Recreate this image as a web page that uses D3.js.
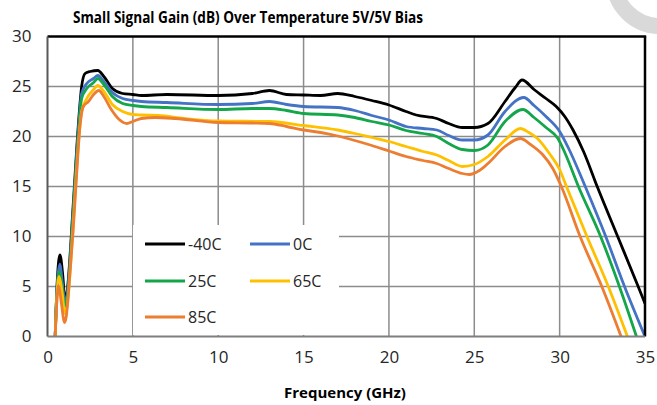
<!DOCTYPE html>
<html>
<head>
<meta charset="utf-8">
<script src="https://cdn.jsdelivr.net/npm/d3@7"></script>
<style>
  html, body { margin: 0; padding: 0; background: #fff; }
  svg { display: block; }
</style>
</head>
<body>
<svg id="chart" width="657" height="405"></svg>
<script>
// Small-signal gain (dB) versus frequency (GHz) at five temperatures
const seriesNames = ["-40C", "0C", "25C", "65C", "85C"];
const seriesColors = ["#000000", "#4472C4", "#13A64A", "#FFC000", "#ED7D31"];

const gainM40 = [
  [0.45,0],[0.57,5.5],[0.73,8.15],[0.9,6],[1.02,3.6],[1.15,4.5],[1.5,13],[1.8,21],[2.0,25],[2.2,26.3],
  [2.5,26.5],[2.95,26.6],[3.3,26],[3.8,24.8],[4.4,24.3],[5.0,24.2],[5.5,24.1],[7,24.2],[10,24.1],[12,24.3],
  [13,24.6],[14,24.2],[15,24.15],[16,24.1],[17,24.3],[18,24.0],[19,23.6],[20,23.15],[21,22.5],[21.6,22.15],
  [22.8,21.8],[23.5,21.3],[24.3,20.9],[25,20.9],[25.8,21.3],[26.8,23.5],[27.4,24.9],[27.8,25.65],[28.5,24.7],
  [29.2,23.8],[29.8,23.0],[30.3,22.0],[30.8,20.6],[31.4,18.5],[32.2,15.0],[33.4,10],[34.6,5],[35,3.3]
];
const gain0 = [
  [0.45,0],[0.56,5],[0.72,7.2],[0.88,5.2],[1.02,3.3],[1.15,4.2],[1.5,12.5],[1.8,20.5],[2.0,24.3],[2.3,25.3],
  [2.7,25.8],[2.95,26.1],[3.3,25.5],[3.8,24.4],[4.4,23.8],[5.0,23.6],[5.5,23.5],[7,23.4],[10,23.2],[12,23.3],
  [13,23.5],[14,23.2],[15,23.0],[17,22.9],[18,22.6],[19,22.1],[20,21.65],[21,21.0],[22,20.8],[22.8,20.65],
  [23.5,20.1],[24.3,19.65],[25,19.65],[25.8,20.15],[26.8,22.5],[27.9,23.9],[28.5,23.1],[29.2,22.0],[30.0,20.5],
  [30.5,18.9],[31.5,15],[32.7,10],[33.8,5],[35,0]
];
const gain25 = [
  [0.45,0],[0.55,4.5],[0.7,6.5],[0.85,5],[1.02,3.0],[1.15,3.8],[1.5,12],[1.8,20],[2.0,23.8],[2.3,24.8],
  [2.7,25.4],[2.95,25.8],[3.3,25.2],[3.8,24.0],[4.4,23.3],[5.0,23.1],[5.5,23.0],[7,22.9],[10,22.7],[12,22.8],
  [13,22.8],[14,22.6],[15,22.3],[17,22.15],[18,21.9],[19,21.5],[20,21.15],[21,20.6],[22,20.3],[22.8,20.0],
  [23.5,19.3],[24.3,18.7],[25,18.6],[25.8,19.15],[26.8,21.5],[27.85,22.7],[28.5,21.9],[29.2,20.9],[29.9,19.8],
  [30.3,18.4],[31.1,15],[32.4,10],[33.5,5],[34.5,0]
];
const gain65 = [
  [0.45,0],[0.55,4],[0.68,6.0],[0.85,4.5],[1.02,2.3],[1.15,3],[1.5,11],[1.8,19],[2.0,22.5],[2.3,23.8],
  [2.7,24.7],[2.95,25.1],[3.3,24.5],[3.8,23.2],[4.4,22.5],[5.0,22.2],[5.5,22.15],[6.5,22.1],[8,21.8],[10,21.55],
  [13,21.5],[15,21.1],[17,20.65],[18,20.3],[19,19.9],[20,19.5],[21,19.0],[22,18.5],[22.8,18.15],[23.5,17.6],
  [24.3,17.0],[25,17.2],[25.8,18.0],[26.8,19.65],[27.7,20.8],[28.2,20.4],[28.7,19.8],[29.4,18.3],[30.0,16.7],
  [30.4,15],[31.6,10],[32.85,5],[33.97,0]
];
const gain85 = [
  [0.45,0],[0.55,3.5],[0.65,5.1],[0.8,3.5],[1.0,1.4],[1.1,2],[1.3,6],[1.5,10.5],[1.7,16],[1.9,21],
  [2.1,23],[2.4,23.5],[2.7,24.2],[3.0,24.6],[3.3,24],[3.7,22.8],[4.2,21.7],[4.65,21.3],[5.0,21.5],[5.5,21.8],
  [6.3,21.9],[7.5,21.8],[10,21.4],[12,21.35],[13,21.3],[14,21.0],[15,20.65],[16,20.4],[17,20.05],[18,19.6],
  [19,19.1],[20,18.55],[21,18.0],[22,17.6],[22.8,17.3],[23.5,16.8],[24.3,16.3],[24.7,16.2],[25.3,16.6],[25.8,17.3],
  [26.8,19.0],[27.7,19.8],[28.3,19.2],[29.0,18.2],[29.6,16.8],[30.1,15],[31.2,10],[32.47,5],[33.6,0]
];
const seriesData = [gainM40, gain0, gain25, gain65, gain85];

const xTicks = [0, 5, 10, 15, 20, 25, 30, 35];
const yTicks = [0, 5, 10, 15, 20, 25, 30];

const titleText = "Small Signal Gain (dB) Over Temperature 5V/5V Bias";
const xTitle = "Frequency (GHz)";

const svg = d3.select("#chart");
const plotLeft = 47.5, plotRight = 645, plotTop = 36.5, plotBottom = 336.5;

const x = d3.scaleLinear().domain([0, 35]).range([plotLeft, plotRight]);
const y = d3.scaleLinear().domain([0, 30]).range([plotBottom, plotTop]);

// light ring in the top-right corner
svg.append("circle")
  .attr("cx", 660).attr("cy", -20).attr("r", 46)
  .attr("fill", "none").attr("stroke", "#d9d9d9").attr("stroke-width", 16);

// title
svg.append("text")
  .attr("x", 248).attr("y", 23)
  .attr("text-anchor", "middle")
  .attr("font-family", "'Open Sans', sans-serif")
  .attr("font-weight", "bold").attr("font-size", 15.5)
  .attr("textLength", 350).attr("lengthAdjust", "spacingAndGlyphs")
  .attr("fill", "#000")
  .text(titleText);

// grid
const grid = svg.append("g").attr("stroke", "#8c8c8c").attr("stroke-width", 1.5);
grid.selectAll("line.v").data(xTicks.filter(d => d > 0 && d < 35)).join("line")
  .attr("class", "v")
  .attr("x1", d => x(d)).attr("x2", d => x(d))
  .attr("y1", plotTop).attr("y2", plotBottom);
grid.selectAll("line.h").data(yTicks.filter(d => d > 0 && d < 30)).join("line")
  .attr("class", "h")
  .attr("x1", plotLeft).attr("x2", plotRight)
  .attr("y1", d => y(d)).attr("y2", d => y(d));

// curves
svg.append("defs").append("clipPath").attr("id", "plotClip")
  .append("rect").attr("x", plotLeft).attr("y", plotTop - 2)
  .attr("width", plotRight - plotLeft).attr("height", plotBottom - plotTop + 2);

const line = d3.line()
  .x(d => x(d[0]))
  .y(d => y(d[1]))
  .curve(d3.curveMonotoneX);

svg.append("g").attr("clip-path", "url(#plotClip)")
  .selectAll("path").data(seriesData).join("path")
  .attr("d", line)
  .attr("fill", "none")
  .attr("stroke", (d, i) => seriesColors[i])
  .attr("stroke-width", 2.8)
  .attr("stroke-linejoin", "round");

// legend
const legend = svg.append("g");
legend.append("rect")
  .attr("x", 133).attr("y", 225).attr("width", 206).attr("height", 110)
  .attr("fill", "#fff");
const legendPos = [[145, 244], [250, 244], [145, 281], [250, 281], [145, 317]];
seriesNames.forEach((name, i) => {
  const [lx, ly] = legendPos[i];
  legend.append("line")
    .attr("x1", lx).attr("x2", lx + 40).attr("y1", ly).attr("y2", ly)
    .attr("stroke", seriesColors[i]).attr("stroke-width", 3);
  legend.append("text")
    .attr("x", lx + 43).attr("y", ly + 6)
    .attr("font-family", "'Open Sans', sans-serif").attr("font-size", 16)
    .attr("fill", "#262626")
    .text(name);
});

// frame: grey left/bottom axes, black top/right border
svg.append("line").attr("x1", plotLeft).attr("x2", plotRight + 1.2).attr("y1", plotTop).attr("y2", plotTop)
  .attr("stroke", "#000").attr("stroke-width", 2.5);
svg.append("line").attr("x1", plotRight).attr("x2", plotRight).attr("y1", plotTop).attr("y2", plotBottom)
  .attr("stroke", "#000").attr("stroke-width", 2.5);
svg.append("line").attr("x1", plotLeft).attr("x2", plotLeft).attr("y1", plotTop).attr("y2", plotBottom)
  .attr("stroke", "#595959").attr("stroke-width", 2);
svg.append("line").attr("x1", plotLeft).attr("x2", plotRight).attr("y1", plotBottom).attr("y2", plotBottom)
  .attr("stroke", "#7f7f7f").attr("stroke-width", 2.2);

// axes labels
const xAxis = d3.axisBottom(x).tickValues(xTicks).tickSize(0).tickPadding(14).tickFormat(d3.format("d"));
const gx = svg.append("g").attr("transform", `translate(0,${plotBottom})`).call(xAxis);
gx.select(".domain").remove();
gx.selectAll("text")
  .attr("font-family", "'Open Sans', sans-serif").attr("font-size", 17).attr("fill", "#262626");

const yAxis = d3.axisLeft(y).tickValues(yTicks).tickSize(0).tickPadding(16).tickFormat(d3.format("d"));
const gy = svg.append("g").attr("transform", `translate(${plotLeft},0)`).call(yAxis);
gy.select(".domain").remove();
gy.selectAll("text")
  .attr("font-family", "'Open Sans', sans-serif").attr("font-size", 17).attr("fill", "#262626");

// x axis title
svg.append("text")
  .attr("x", 345).attr("y", 398)
  .attr("text-anchor", "middle")
  .attr("font-family", "'Open Sans', sans-serif")
  .attr("font-weight", "bold").attr("font-size", 15)
  .attr("fill", "#000")
  .text(xTitle);
</script>
</body>
</html>
